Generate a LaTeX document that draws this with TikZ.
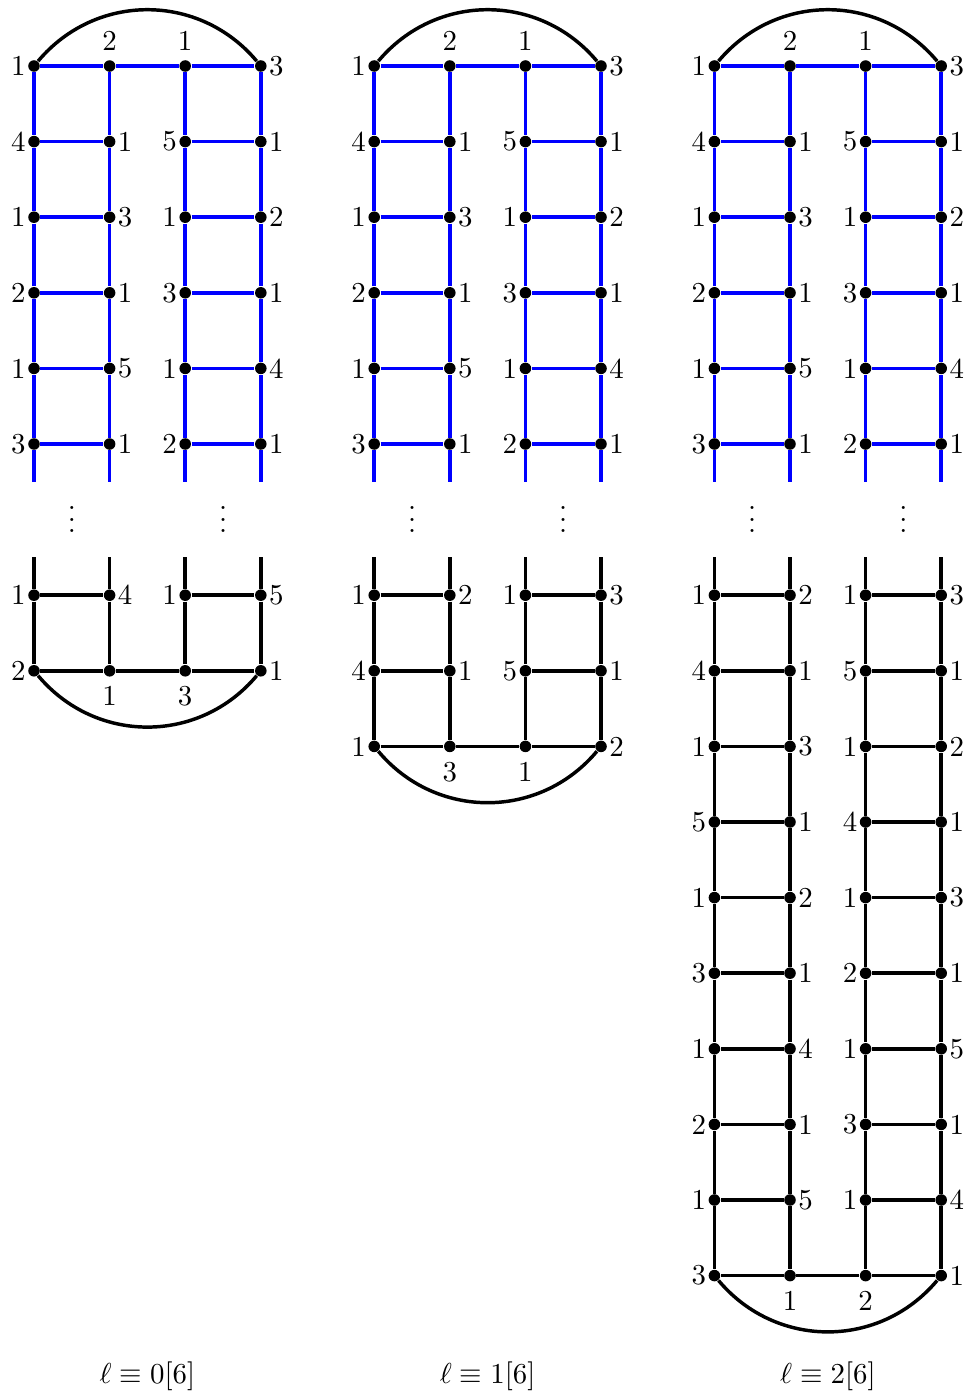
\documentclass[tikz,border=0pt]{standalone}
\usepackage{amsmath}
\tikzset{
    vtx/.style={circle, fill=black, inner sep=0pt, minimum size=4pt},
    lbl/.style={inner sep=0.5pt},
    uplbl/.style={inner sep=0.5pt, yshift=2.5pt},
    dnlbl/.style={inner sep=0.5pt, yshift=-2.5pt},
    rung/.style={very thick, blue},
    blk/.style={very thick, black},
    hoop/.style={very thick, black, looseness=1.05}
}

\begin{document}
\begin{tikzpicture}[x=0.92cm, y=0.92cm]
    \useasboundingbox (-0.45,0.873) rectangle (12.381,-17.606);
    % upper ladders (same for the three cases)
    \foreach \p in {0,1,2} {
        \node [vtx, label={[lbl]left:1}] (t\p-0-1) at (4.5*\p,0) {};
        \node [vtx, label={[uplbl]above:2}] (t\p-0-2) at (4.5*\p+1,0) {};
        \node [vtx, label={[uplbl]above:1}] (t\p-0-3) at (4.5*\p+2,0) {};
        \node [vtx, label={[lbl]right:3}] (t\p-0-4) at (4.5*\p+3,0) {};
        \foreach \r/\la/\lb/\lc/\ld in {1/4/1/5/1, 2/1/3/1/2, 3/2/1/3/1, 4/1/5/1/4, 5/3/1/2/1} {
            \node [vtx, label={[lbl]left:\la}] (t\p-\r-1) at (4.5*\p,-\r) {};
            \node [vtx, label={[lbl]right:\lb}] (t\p-\r-2) at (4.5*\p+1,-\r) {};
            \node [vtx, label={[lbl]left:\lc}] (t\p-\r-3) at (4.5*\p+2,-\r) {};
            \node [vtx, label={[lbl]right:\ld}] (t\p-\r-4) at (4.5*\p+3,-\r) {};
            \draw [rung] (t\p-\r-1) -- (t\p-\r-2);
            \draw [rung] (t\p-\r-3) -- (t\p-\r-4);
        }
        \draw [rung] (t\p-0-1) -- (t\p-0-2) -- (t\p-0-3) -- (t\p-0-4);
        \draw [hoop] (t\p-0-1) to[out=50, in=130] (t\p-0-4);
        \foreach \c in {1,...,4} {
            \coordinate (te\p-\c) at (4.5*\p+\c-1,-5.5);
            \coordinate (bs\p-\c) at (4.5*\p+\c-1,-6.5);
            \foreach \r [remember=\r as \q (initially 0)] in {1,...,5}
                \draw [rung] (t\p-\q-\c) -- (t\p-\r-\c);
            \draw [rung] (t\p-5-\c) -- (te\p-\c);
        }
        \node [inner sep=0pt, yshift=3pt] (dl\p) at (4.5*\p+0.5,-6) {$\vdots$};
        \node [inner sep=0pt, yshift=3pt] (dr\p) at (4.5*\p+2.5,-6) {$\vdots$};
    }
    % lower ladders, inner rows
    \foreach \p/\r/\la/\lb/\lc/\ld in {0/1/1/4/1/5,
            1/1/1/2/1/3, 1/2/4/1/5/1,
            2/1/1/2/1/3, 2/2/4/1/5/1, 2/3/1/3/1/2, 2/4/5/1/4/1, 2/5/1/2/1/3,
            2/6/3/1/2/1, 2/7/1/4/1/5, 2/8/2/1/3/1, 2/9/1/5/1/4} {
        \node [vtx, label={[lbl]left:\la}] (b\p-\r-1) at (4.5*\p,-6-\r) {};
        \node [vtx, label={[lbl]right:\lb}] (b\p-\r-2) at (4.5*\p+1,-6-\r) {};
        \node [vtx, label={[lbl]left:\lc}] (b\p-\r-3) at (4.5*\p+2,-6-\r) {};
        \node [vtx, label={[lbl]right:\ld}] (b\p-\r-4) at (4.5*\p+3,-6-\r) {};
        \draw [blk] (b\p-\r-1) -- (b\p-\r-2);
        \draw [blk] (b\p-\r-3) -- (b\p-\r-4);
    }
    % lower ladders, closing row
    \foreach \p/\r/\la/\lb/\lc/\ld in {0/2/2/1/3/1, 1/3/1/3/1/2, 2/10/3/1/2/1} {
        \node [vtx, label={[lbl]left:\la}] (b\p-\r-1) at (4.5*\p,-6-\r) {};
        \node [vtx, label={[dnlbl]below:\lb}] (b\p-\r-2) at (4.5*\p+1,-6-\r) {};
        \node [vtx, label={[dnlbl]below:\lc}] (b\p-\r-3) at (4.5*\p+2,-6-\r) {};
        \node [vtx, label={[lbl]right:\ld}] (b\p-\r-4) at (4.5*\p+3,-6-\r) {};
        \draw [blk] (b\p-\r-1) -- (b\p-\r-2) -- (b\p-\r-3) -- (b\p-\r-4);
        \draw [hoop] (b\p-\r-1) to[out=-50, in=-130] (b\p-\r-4);
        \foreach \c in {1,...,4} {
            \draw [blk] (bs\p-\c) -- (b\p-1-\c);
            \foreach \s [remember=\s as \q (initially 1)] in {2,...,\r}
                \draw [blk] (b\p-\q-\c) -- (b\p-\s-\c);
        }
        \node (cap\p) at (4.5*\p+1.5,-17.33) {$\ell\equiv \p[6]$};
    }
\end{tikzpicture}
\end{document}
